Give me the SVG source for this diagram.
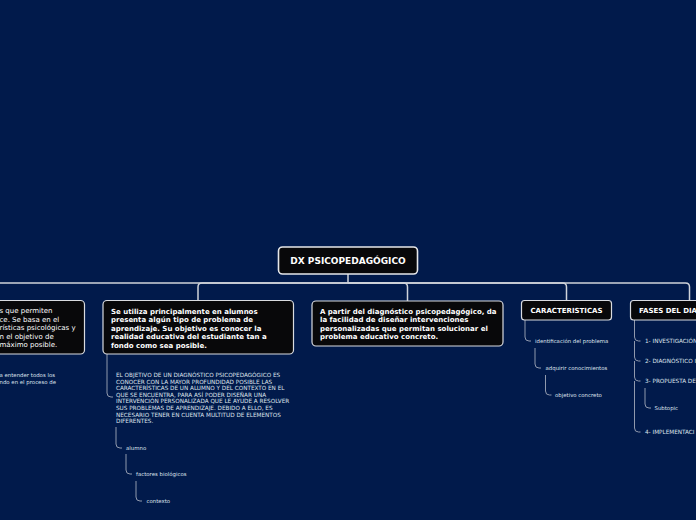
<svg xmlns="http://www.w3.org/2000/svg" width="696" height="520" viewBox="0 0 696 520">
<style>
.bg{fill:#011a4b}
.node{fill:#08080a;stroke:#d9dbe0;stroke-width:1.2}
.main{fill:#08080a;stroke:#e6e7ea;stroke-width:1.6}
.tb{font-family:"DejaVu Sans",Verdana,sans-serif;font-weight:bold;font-size:7px;fill:#ffffff}
.tr{font-family:"DejaVu Sans",Verdana,sans-serif;font-size:7px;fill:#ffffff}
.ts{font-family:"DejaVu Sans",Verdana,sans-serif;font-size:5.4px;fill:#dfe3ec}
.tc{font-family:"DejaVu Sans",Verdana,sans-serif;font-size:5.7px;fill:#dfe3ec}
.c1{fill:none;stroke:#cfd3da;stroke-width:1.5}
.c2{fill:none;stroke:#9099ad;stroke-width:1}
</style>
<rect class="bg" x="0" y="0" width="696" height="520"/>
<g id="connectors">
<path class="c1" d="M348,274 V283 H-10"/>
<path class="c1" d="M348,283 H202 Q198,283 198,287 V301"/>
<path class="c1" d="M348,283 H403.5 Q407.5,283 407.5,287 V301"/>
<path class="c1" d="M348,283 H562.5 Q566.5,283 566.5,287 V301"/>
<path class="c1" d="M348,283 H685.5 Q689.5,283 689.5,287 V301"/>
<path class="c2" d="M107,354 V393 Q107,397 111,397 H113"/>
<path class="c2" d="M116,427 V444 Q116,448 120,448 H122"/>
<path class="c2" d="M126,454 V470 Q126,474 130,474 H132"/>
<path class="c2" d="M136,481 V497 Q136,501 140,501 H142"/>
<path class="c2" d="M525,320 V337 Q525,341 529,341 H531"/>
<path class="c2" d="M535,348 V364 Q535,368 539,368 H541"/>
<path class="c2" d="M545.5,375 V391 Q545.5,395 549.5,395 H551.5"/>
<path class="c2" d="M634.5,320 V337 Q634.5,341 638.5,341 H640.5 M634.5,341 V357 Q634.5,361 638.5,361 H640.5 M634.5,361 V377 Q634.5,381 638.5,381 H640.5 M634.5,381 V428 Q634.5,432 638.5,432 H640.5"/>
<path class="c2" d="M645,388 V404 Q645,408 649,408 H651"/>
</g>
<g id="root">
<rect class="main" x="278.5" y="247" width="139" height="27" rx="4"/>
<text class="tb" style="font-size:9px" x="348" y="264.2" text-anchor="middle">DX PSICOPEDAGÓGICO</text>
</g>
<g id="node-left">
<rect class="node" x="-20" y="300.5" width="104.5" height="53.5" rx="4"/>
<text class="tr" x="-0.5" y="313">s que permiten</text>
<text class="tr" x="-0.5" y="321.5">ce. Se basa en el</text>
<text class="tr" x="-0.5" y="330">rísticas psicológicas y</text>
<text class="tr" x="-0.5" y="338.5">n el objetivo de</text>
<text class="tr" x="-0.5" y="347">máximo posible.</text>
</g>
<g id="node-left-child">
<text class="ts" x="-0.5" y="377">a entender todos los</text>
<text class="ts" x="-0.5" y="384">ndo en el proceso de</text>
</g>
<g id="node-uso">
<rect class="node" x="103" y="300.5" width="190.5" height="53.5" rx="4"/>
<text class="tb" x="111" y="313.5">Se utiliza principalmente en alumnos</text>
<text class="tb" x="111" y="322">presenta algún tipo de problema de</text>
<text class="tb" x="111" y="330.5">aprendizaje. Su objetivo es conocer la</text>
<text class="tb" x="111" y="339">realidad educativa del estudiante tan a</text>
<text class="tb" x="111" y="347.5">fondo como sea posible.</text>
</g>
<g id="node-objetivo">
<text class="tc" x="116" y="377">EL OBJETIVO DE UN DIAGNÓSTICO PSICOPEDAGÓGICO ES</text>
<text class="tc" x="116" y="383.6">CONOCER CON LA MAYOR PROFUNDIDAD POSIBLE LAS</text>
<text class="tc" x="116" y="390.2">CARACTERÍSTICAS DE UN ALUMNO Y DEL CONTEXTO EN EL</text>
<text class="tc" x="116" y="396.8">QUE SE ENCUENTRA, PARA ASÍ PODER DISEÑAR UNA</text>
<text class="tc" x="116" y="403.4">INTERVENCIÓN PERSONALIZADA QUE LE AYUDE A RESOLVER</text>
<text class="tc" x="116" y="410">SUS PROBLEMAS DE APRENDIZAJE. DEBIDO A ELLO, ES</text>
<text class="tc" x="116" y="416.6">NECESARIO TENER EN CUENTA MULTITUD DE ELEMENTOS</text>
<text class="tc" x="116" y="423.2">DIFERENTES.</text>
</g>
<g id="node-alumno"><text class="ts" x="126" y="450.2">alumno</text></g>
<g id="node-factores"><text class="ts" x="136" y="476">factores biológicos</text></g>
<g id="node-contexto"><text class="ts" x="146.5" y="503">contexto</text></g>
<g id="node-apartir">
<rect class="node" x="312" y="301" width="191" height="45" rx="4"/>
<text class="tb" x="320" y="313.5">A partir del diagnóstico psicopedagógico, da</text>
<text class="tb" x="320" y="322">la facilidad de diseñar intervenciones</text>
<text class="tb" x="320" y="330.5">personalizadas que permitan solucionar el</text>
<text class="tb" x="320" y="339">problema educativo concreto.</text>
</g>
<g id="node-caracteristicas">
<rect class="node" x="521.5" y="300.5" width="90" height="19.5" rx="3"/>
<text class="tb" x="566.5" y="313" text-anchor="middle">CARACTERISTICAS</text>
</g>
<g id="node-identificacion"><text class="ts" x="535" y="343">identificación del problema</text></g>
<g id="node-adquirir"><text class="ts" x="545.5" y="370">adquirir conocimientos</text></g>
<g id="node-objetivo-concreto"><text class="ts" x="555" y="397">objetivo concreto</text></g>
<g id="node-fases">
<rect class="node" x="630.5" y="300.5" width="80" height="19.5" rx="3"/>
<text class="tb" x="639" y="313">FASES DEL DIA</text>
</g>
<g id="node-f1"><text class="tc" x="645" y="343">1- INVESTIGACIÓN</text></g>
<g id="node-f2"><text class="tc" x="645" y="363">2- DIAGNÓSTICO I</text></g>
<g id="node-f3"><text class="tc" x="645" y="383">3- PROPUESTA DE</text></g>
<g id="node-subtopic"><text class="ts" x="654.5" y="410">Subtopic</text></g>
<g id="node-f4"><text class="tc" x="645" y="434">4- IMPLEMENTACI</text></g>
</svg>
